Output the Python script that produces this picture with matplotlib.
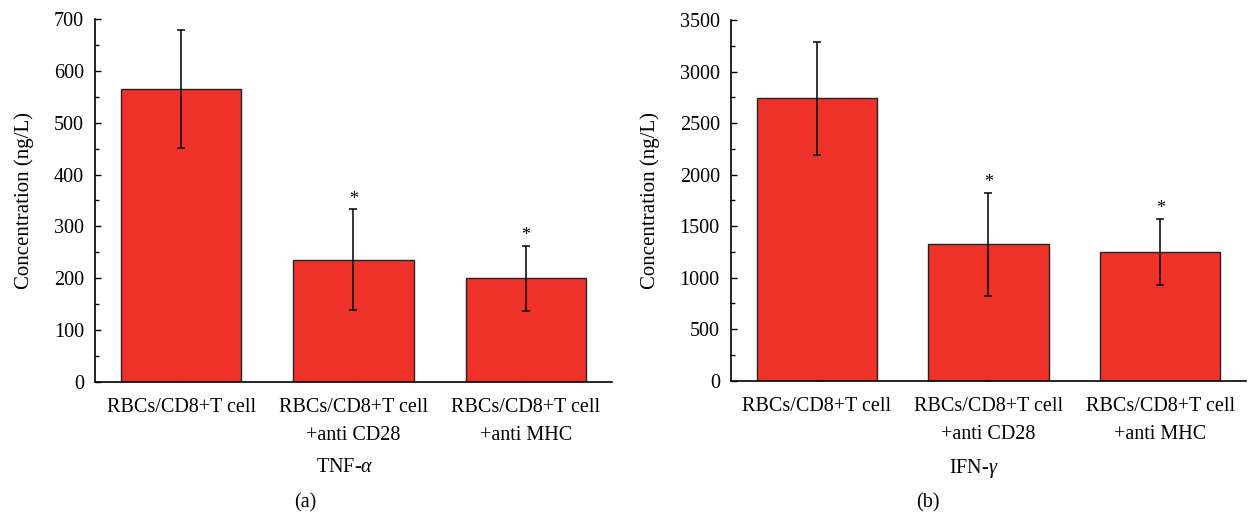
import matplotlib
matplotlib.use("Agg")
import matplotlib.pyplot as plt
from matplotlib.ticker import MultipleLocator

plt.rcParams['font.family'] = ['Liberation Serif', 'DejaVu Serif']
plt.rcParams['mathtext.fontset'] = 'custom'
plt.rcParams['mathtext.rm'] = 'Liberation Serif'
plt.rcParams['mathtext.it'] = 'Liberation Serif:italic'

groups = ["RBCs/CD8+T cell", "RBCs/CD8+T cell\n+anti CD28", "RBCs/CD8+T cell\n+anti MHC"]

tnf_mean = [566, 236, 200]
tnf_err = [114, 97, 63]
tnf_star = [False, True, True]

ifn_mean = [2740, 1323, 1249]
ifn_err = [545, 500, 323]
ifn_star = [False, True, True]

barColor = "#EE3129"
fs = 14.5


def drawPanel(ax, means, errs, stars, ymax, major):
    x = range(len(means))
    ax.bar(x, means, width=0.7, color=barColor, edgecolor="#222222", linewidth=1.0, zorder=2)
    ax.errorbar(x, means, yerr=errs, fmt="none", ecolor="black", elinewidth=1.1,
                capsize=3, capthick=1.1, zorder=3)
    for i in x:
        if stars[i]:
            ax.annotate("*", (i, means[i] + errs[i]), xytext=(0, 1), textcoords="offset points",
                        ha="center", va="bottom", fontsize=13)

    ax.set_xlim(-0.5, 2.5)
    ax.set_ylim(0, ymax)
    ax.yaxis.set_major_locator(MultipleLocator(major))
    ax.yaxis.set_minor_locator(MultipleLocator(major / 2))
    ax.set_xticks(list(x))
    ax.set_xticklabels(groups, fontsize=fs, linespacing=1.6)
    ax.tick_params(axis="y", which="major", direction="in", length=4, width=1, pad=8, labelsize=fs)
    ax.tick_params(axis="y", which="minor", direction="in", length=3, width=1)
    ax.tick_params(axis="x", direction="in", length=4, width=1, pad=12)
    ax.spines["top"].set_visible(False)
    ax.spines["right"].set_visible(False)
    ax.spines["left"].set_linewidth(1.2)
    ax.spines["bottom"].set_linewidth(1.2)
    ax.set_ylabel("Concentration (ng/L)", fontsize=15, labelpad=14)


fig = plt.figure(figsize=(12.48, 5.16), dpi=100)
axA = fig.add_axes([0.0761, 0.2603, 0.4143, 0.7023])
axB = fig.add_axes([0.5857, 0.2622, 0.4127, 0.6990])

drawPanel(axA, tnf_mean, tnf_err, tnf_star, 700, 100)
drawPanel(axB, ifn_mean, ifn_err, ifn_star, 3500, 500)

fig.text(345 / 1248, 1 - 468 / 516, r"TNF-$\alpha$", ha="center", va="center", fontsize=fs)
fig.text(974 / 1248, 1 - 468 / 516, r"IFN-$\gamma$", ha="center", va="center", fontsize=fs)
fig.text(305 / 1248, 1 - 503 / 516, "(a)", ha="center", va="center", fontsize=fs)
fig.text(928 / 1248, 1 - 503 / 516, "(b)", ha="center", va="center", fontsize=fs)

fig.savefig("out.png", dpi=100)
